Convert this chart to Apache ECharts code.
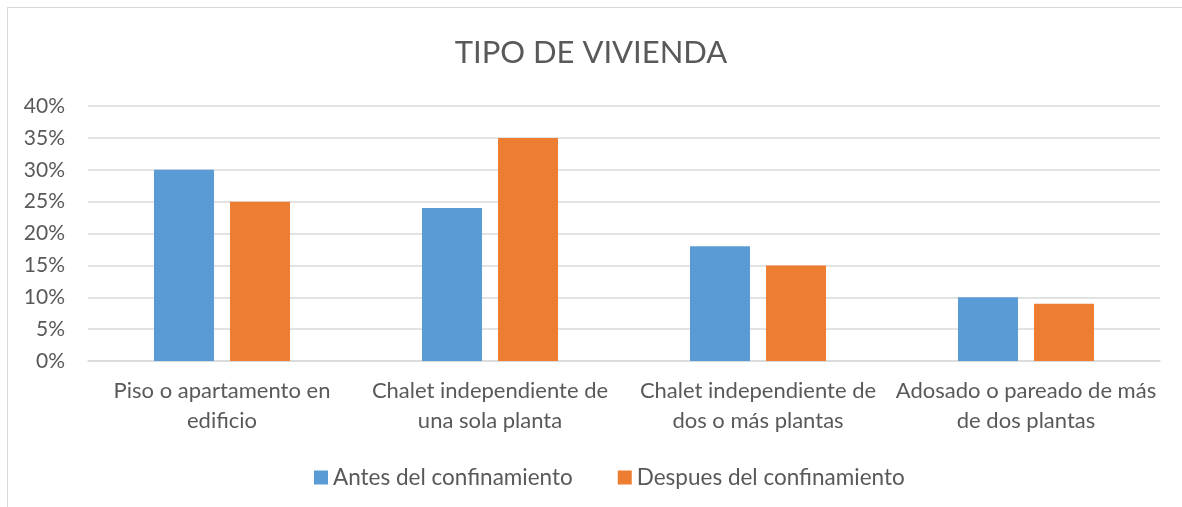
<!DOCTYPE html>
<html><head><meta charset="utf-8">
<script src="https://cdn.jsdelivr.net/npm/echarts@6/dist/echarts.min.js"></script>
<style>
html,body{margin:0;padding:0;background:#fff;}
#frame{position:absolute;left:7px;top:7px;width:1200px;height:520px;border:1px solid #d9d9d9;box-sizing:border-box;}
#c{position:absolute;left:0;top:0;width:1182px;height:507px;}
</style></head>
<body><div id="frame"></div><div id="c"></div>
<script>
const categories = ['Piso o apartamento en\nedificio','Chalet independiente de\nuna sola planta','Chalet independiente de\ndos o más plantas','Adosado o pareado de más\nde dos plantas'];
const antes = [30, 24, 18, 10];
const despues = [25, 35, 15, 9];
const seriesNames = ['Antes del confinamiento','Despues del confinamiento'];
const FONT = 'Lato, "Open Sans", sans-serif';
const chart = echarts.init(document.getElementById('c'));
chart.setOption({
  animation:false,
  textStyle:{fontFamily:FONT},
  title:{text:'TIPO DE VIVIENDA',left:'center',top:32,textStyle:{fontFamily:FONT,fontSize:31,fontWeight:'normal',color:'#595959'}},
  legend:{top:461,left:309,itemWidth:14,itemHeight:14,itemGap:45,icon:'rect',
    textStyle:{fontFamily:FONT,fontSize:22.5,color:'#595959'},data:seriesNames},
  grid:{left:88,right:22,top:106,bottom:146},
  xAxis:{type:'category',data:categories,axisTick:{show:false},
    axisLine:{lineStyle:{color:'#d9d9d9',width:1.5}},
    axisLabel:{fontFamily:FONT,fontSize:22,color:'#595959',lineHeight:30,margin:15,interval:0}},
  yAxis:{type:'value',min:0,max:40,interval:5,
    axisLabel:{formatter:'{value}%',fontFamily:FONT,fontSize:21,color:'#595959',margin:23},
    splitLine:{lineStyle:{color:'#d9d9d9',width:1.5}},axisLine:{show:false},axisTick:{show:false}},
  series:[
    {name:seriesNames[0],type:'bar',data:antes,barWidth:60,barGap:'26.7%',itemStyle:{color:'#5b9bd5'}},
    {name:seriesNames[1],type:'bar',data:despues,barWidth:60,itemStyle:{color:'#ed7d31'}}
  ]
});
</script></body></html>
